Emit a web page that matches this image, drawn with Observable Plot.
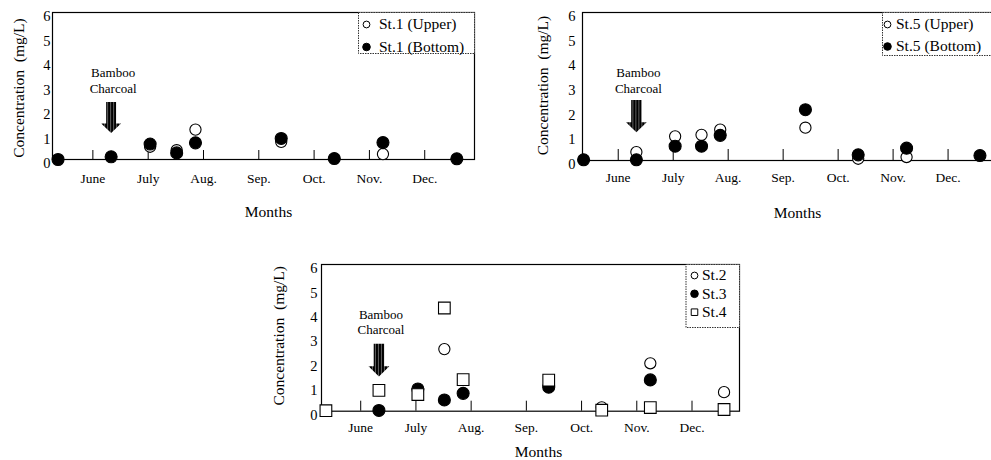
<!DOCTYPE html>
<html><head><meta charset="utf-8">
<script src="https://cdn.jsdelivr.net/npm/d3@7"></script>
<script src="https://cdn.jsdelivr.net/npm/@observablehq/plot@0.6"></script>
<style>
html,body{margin:0;padding:0;background:#fff;width:991px;height:460px;overflow:hidden;}
#wrap{position:relative;width:991px;height:460px;overflow:hidden;}
.panel{position:absolute;width:495px;}
.panel svg{overflow:visible;max-width:none !important;}
</style></head><body>
<svg width="0" height="0" style="position:absolute"><defs>
<pattern id="hatch" width="3" height="4" patternUnits="userSpaceOnUse"><rect width="3" height="4" fill="#000"/><rect x="2.3" width="0.7" height="4" fill="#8a8a8a"/></pattern>
</defs></svg>
<div id="wrap"></div>
<script>
// ---- data ----
const monthLabels = ["June", "July", "Aug.", "Sep.", "Oct.", "Nov.", "Dec."];
const monthTicks = [6, 7, 8, 9, 10, 11, 12];
const yTicks = [0, 1, 2, 3, 4, 5, 6];
// sampling dates (in month units, 6 = June tick)
const dates = [5.37, 6.33, 7.035, 7.515, 7.855, 9.405, 10.365, 11.245, 12.58];
const injectionDate = 6.33;
// St.1
const st1Upper  = [null, null, 0.52, 0.38, 1.22, 0.72, null, 0.22, null];
const st1Bottom = [0.0, 0.11, 0.63, 0.27, 0.68, 0.86, 0.04, 0.69, 0.03];
// St.5
const st5Upper  = [null, 0.34, 0.98, 1.04, 1.25, 1.33, 0.07, 0.14, null];
const st5Bottom = [0.03, 0.03, 0.58, 0.58, 1.02, 2.06, 0.23, 0.5, 0.2];
// St.2 / St.3 / St.4
const st2 = [null, null, null, 2.54, null, null, 0.16, 1.96, 0.78];
const st3 = [null, 0.03, 0.91, 0.46, 0.73, 0.98, null, 1.28, null];
const st4 = [0.02, 0.85, 0.68, 4.22, 1.29, 1.27, 0.04, 0.15, 0.07];

const FONT = "'Liberation Serif', 'Times New Roman', serif";

const arrowSymbol = {
  draw(ctx, size) {
    const r = Math.sqrt(size / Math.PI);
    const bw = r * 0.32, hw = r * 0.64, hl = r * 0.62;
    ctx.moveTo(-bw, -r);
    ctx.lineTo(bw, -r);
    ctx.lineTo(bw, r - hl);
    ctx.lineTo(hw, r - hl);
    ctx.lineTo(0, r);
    ctx.lineTo(-hw, r - hl);
    ctx.lineTo(-bw, r - hl);
    ctx.closePath();
  }
};

const styles = {
  open:   {symbol: "circle", fill: "white", stroke: "black", r: 5.6, lr: 3.4},
  filled: {symbol: "circle", fill: "black", stroke: "black", r: 6, lr: 3.8},
  square: {symbol: "square", fill: "white", stroke: "black", r: 6.6, lr: 3.7}
};

function makePanel(cfg) {
  const fh = cfg.height - cfg.mt - cfg.mb;
  const marks = [];
  marks.push(Plot.frame({stroke: "black", strokeWidth: 1.2}));
  marks.push(Plot.ruleX(monthTicks, {x: d => d, insetTop: fh - cfg.tickLen, stroke: "black", strokeWidth: 1}));
  marks.push(Plot.text(monthLabels, {x: (d, i) => monthTicks[i], frameAnchor: "bottom", lineAnchor: "middle", dy: cfg.monthDy, fontSize: 13.5}));
  marks.push(Plot.text(yTicks, {y: d => d, text: d => String(d), frameAnchor: "left", lineAnchor: "middle", dx: -cfg.tickPad, dy: 4, textAnchor: "end", fontSize: 14.5}));
  marks.push(Plot.text(["Concentration\u2002(mg/L)"], {frameAnchor: "left", textAnchor: "middle", lineAnchor: "middle", dx: -cfg.ylabOff, dy: cfg.ylabDy, rotate: -90, fontSize: 15.5}));
  marks.push(Plot.text(["Months"], {frameAnchor: "bottom", textAnchor: "middle", lineAnchor: "middle", dx: cfg.monthsDx, dy: cfg.monthsDy, fontSize: 15.5}));
  // annotation
  marks.push(Plot.dot([{x: injectionDate, y: cfg.arrowY}], {x: "x", y: "y", symbol: arrowSymbol, r: cfg.arrowR, fill: "url(#hatch)", stroke: "none"}));
  marks.push(Plot.text([{x: injectionDate, y: cfg.textY, t: "Bamboo\nCharcoal"}], {x: "x", y: "y", text: "t", dx: 2, lineAnchor: "middle", fontSize: 13, lineHeight: 1.19}));
  // data
  for (const s of cfg.series) {
    const st = styles[s.style];
    const data = dates.map((d, i) => ({date: d, v: s.values[i]})).filter(d => d.v != null);
    marks.push(Plot.dot(data, {x: "date", y: "v", symbol: st.symbol, r: st.r, fill: st.fill, stroke: st.stroke, strokeWidth: 1.1}));
  }
  // legend
  marks.push(Plot.frame({insetLeft: cfg.lgLeft, insetBottom: cfg.lgBottom, fill: "white", stroke: "#333", strokeWidth: 1, strokeDasharray: "1.5,1"}));
  cfg.series.forEach((s, i) => {
    const st = styles[s.style];
    const dy = cfg.lgRows[i];
    marks.push(Plot.dot([0], {frameAnchor: "top-left", dx: cfg.lgSym, dy, symbol: st.symbol, r: st.lr, fill: st.fill, stroke: st.stroke, strokeWidth: 1}));
    marks.push(Plot.text([s.name], {frameAnchor: "top-left", dx: cfg.lgText, dy, textAnchor: "start", lineAnchor: "middle", fontSize: 15.5}));
  });
  const svg = Plot.plot({
    width: cfg.width, height: cfg.height,
    marginLeft: cfg.ml, marginRight: cfg.mr, marginTop: cfg.mt, marginBottom: cfg.mb,
    x: {domain: cfg.domain, axis: null},
    y: {domain: [0, 6], axis: null},
    style: {fontFamily: FONT, fontSize: "14px", background: "transparent", color: "black", overflow: "visible", maxWidth: "none"},
    marks
  });
  const div = document.createElement("div");
  div.className = "panel";
  div.style.left = cfg.left + "px";
  div.style.top = cfg.top + "px";
  div.appendChild(svg);
  document.getElementById("wrap").appendChild(div);
}

makePanel({
  left: 0, top: 0, width: 495, height: 230, ml: 52, mr: 21, mt: 12, mb: 71,
  domain: [5.27, 12.9], tickLen: 9, monthDy: 19, monthsDy: 53, monthsDx: 5, ylabOff: 33, ylabDy: 2, tickPad: 2,
  arrowY: 1.71, arrowR: 15.5, textY: 3.25,
  series: [
    {name: "St.1 (Upper)", style: "open", values: st1Upper},
    {name: "St.1 (Bottom)", style: "filled", values: st1Bottom}
  ],
  lgLeft: 306, lgBottom: 106, lgSym: 314, lgText: 326.5, lgRows: [12, 34.5]
});

makePanel({
  left: 530, top: 0, width: 495, height: 230, ml: 52, mr: 23, mt: 12, mb: 70,
  domain: [5.35, 12.99], tickLen: 11, monthDy: 17, monthsDy: 53, monthsDx: 5, ylabOff: 39, ylabDy: -1, tickPad: 7,
  arrowY: 1.8, arrowR: 16.2, textY: 3.26,
  series: [
    {name: "St.5 (Upper)", style: "open", values: st5Upper},
    {name: "St.5 (Bottom)", style: "filled", values: st5Bottom}
  ],
  lgLeft: 300, lgBottom: 105, lgSym: 305, lgText: 313.5, lgRows: [12, 34]
});

makePanel({
  left: 269, top: 252, width: 495, height: 208, ml: 52, mr: 25, mt: 12, mb: 49.3,
  domain: [5.29, 12.86], tickLen: 10, monthDy: 16, monthsDy: 41, monthsDx: 8, ylabOff: 42, ylabDy: -2, tickPad: 4,
  arrowY: 2.09, arrowR: 16.3, textY: 3.66,
  series: [
    {name: "St.2", style: "open", values: st2},
    {name: "St.3", style: "filled", values: st3},
    {name: "St.4", style: "square", values: st4}
  ],
  lgLeft: 364.5, lgBottom: 83.7, lgSym: 373, lgText: 380.5, lgRows: [11, 29.3, 47.7]
});
</script>
</body></html>
